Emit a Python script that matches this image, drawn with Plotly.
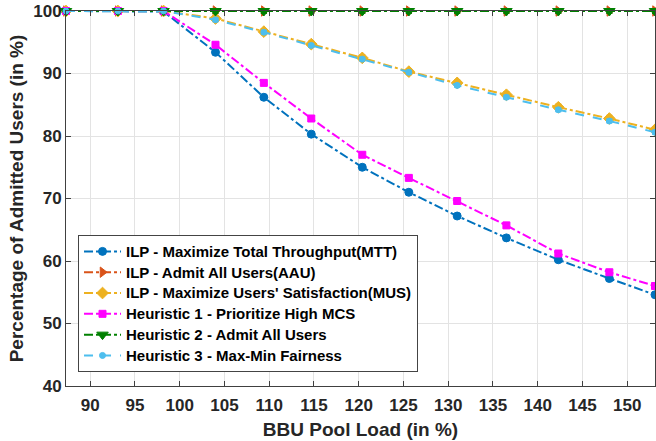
import plotly.graph_objects as go

# ---- data ----
bbu_load = [87.3, 93.1, 98.2, 104.0, 109.4, 114.7, 120.4, 125.6, 131.0, 136.5, 142.3, 148.0, 153.1]

ilp_mtt = [100, 100, 99.9, 93.4, 86.2, 80.3, 75.0, 71.0, 67.2, 63.7, 60.2, 57.2, 54.6]
ilp_aau = [100, 100, 100, 100, 100, 100, 100, 100, 100, 100, 100, 100, 100]
ilp_mus = [100, 100, 100, 98.8, 96.7, 94.7, 92.5, 90.3, 88.5, 86.6, 84.6, 82.8, 81.0]
heur1 = [100, 100, 100, 94.6, 88.5, 82.8, 77.0, 73.3, 69.6, 65.7, 61.2, 58.2, 56.0]
heur2 = [100, 100, 100, 100, 100, 100, 100, 100, 100, 100, 100, 100, 100]
heur3 = [100, 100, 100, 98.6, 96.6, 94.5, 92.3, 90.2, 88.1, 86.2, 84.2, 82.4, 80.6]

err_mtt = [0.2, 0.2, 0.2, 0.4, 0.4, 0.4, 0.4, 0.4, 0.4, 0.4, 0.4, 0.4, 0.4]
err_aau = [0.4] * 13
err_mus = [0.2, 0.2, 0.2, 0.5, 0.5, 0.5, 0.5, 0.5, 0.5, 0.5, 0.5, 0.5, 0.5]
err_h1 = [0.2, 0.2, 0.2, 0.4, 0.4, 0.4, 0.4, 0.4, 0.4, 0.4, 0.4, 0.4, 0.4]
err_h2 = [0.4] * 13
err_h3 = [0.2, 0.2, 0.2, 0.3, 0.3, 0.3, 0.3, 0.3, 0.3, 0.3, 0.3, 0.3, 0.3]

series_names = [
    "ILP - Maximize Total Throughput(MTT)",
    "ILP - Admit All Users(AAU)",
    "ILP - Maximize Users' Satisfaction(MUS)",
    "Heuristic 1 - Prioritize High MCS",
    "Heuristic 2 - Admit All Users",
    "Heuristic 3 - Max-Min Fairness",
]

x_ticks = [90, 95, 100, 105, 110, 115, 120, 125, 130, 135, 140, 145, 150]
y_ticks = [40, 50, 60, 70, 80, 90, 100]

styles = [
    ("#0072BD", "circle", "dashdot", 8),
    ("#D95319", "triangle-right", "dashdot", 9),
    ("#EDB120", "diamond", "dashdot", 9),
    ("#FF00FF", "square", "dashdot", 7),
    ("#008000", "triangle-down", "dashdot", 10),
    ("#4DBEEE", "circle", "dash", 6),
]
values = [ilp_mtt, ilp_aau, ilp_mus, heur1, heur2, heur3]
errors = [err_mtt, err_aau, err_mus, err_h1, err_h2, err_h3]

FONT = "Liberation Sans, Arial, sans-serif"

fig = go.Figure()
for name, vals, err, (color, sym, dash, msize) in zip(series_names, values, errors, styles):
    fig.add_trace(go.Scatter(
        x=bbu_load, y=vals,
        name="<span style='font-size:15px'>%s</span>" % name,
        mode="lines+markers",
        line=dict(color=color, width=2, dash=dash),
        marker=dict(color=color, symbol=sym, size=msize, line=dict(color=color, width=1)),
        error_y=dict(type="data", array=err, visible=True, color=color, thickness=1.2, width=3),
        cliponaxis=False,
    ))

fig.update_layout(
    width=656, height=441,
    margin=dict(l=66, r=1, t=11, b=55),
    paper_bgcolor="white", plot_bgcolor="white",
    font=dict(family=FONT, color="#262626"),
    xaxis=dict(
        range=[bbu_load[0], bbu_load[-1]], tickvals=x_ticks, ticktext=["<b>%d</b>" % v for v in x_ticks],
        showgrid=True, gridcolor="#e3e3e3", gridwidth=1,
        showline=True, linecolor="#404040", linewidth=1, mirror="allticks",
        ticks="inside", ticklen=5, tickcolor="#404040",
        tickfont=dict(family=FONT, size=17, color="#262626"),
        ticklabelstandoff=4,
        title=dict(text="<b>BBU Pool Load (in %)</b>", font=dict(size=19, family=FONT, color="#262626"), standoff=8),
        zeroline=False, automargin=False,
    ),
    yaxis=dict(
        range=[40, 100], tickvals=y_ticks, ticktext=["<b>%d</b>" % v for v in y_ticks],
        showgrid=True, gridcolor="#e3e3e3", gridwidth=1,
        showline=True, linecolor="#404040", linewidth=1, mirror="allticks",
        ticks="inside", ticklen=5, tickcolor="#404040",
        tickfont=dict(family=FONT, size=17, color="#262626"),
        title=dict(text="<b>Percentage of Admitted Users (in %)</b>", font=dict(size=19, family=FONT, color="#262626"), standoff=4),
        zeroline=False, automargin=False,
    ),
    legend=dict(
        x=0.0204, y=0.4027, xanchor="left", yanchor="top",
        bgcolor="white", bordercolor="#444444", borderwidth=1,
        font=dict(family=FONT, size=13.7, color="black", weight="bold"),
        itemwidth=37, tracegroupgap=0,
    ),
)

fig.write_html("out.html", config={"displayModeBar": False},
               post_script="document.body.style.margin='0';document.body.style.padding='0';")
